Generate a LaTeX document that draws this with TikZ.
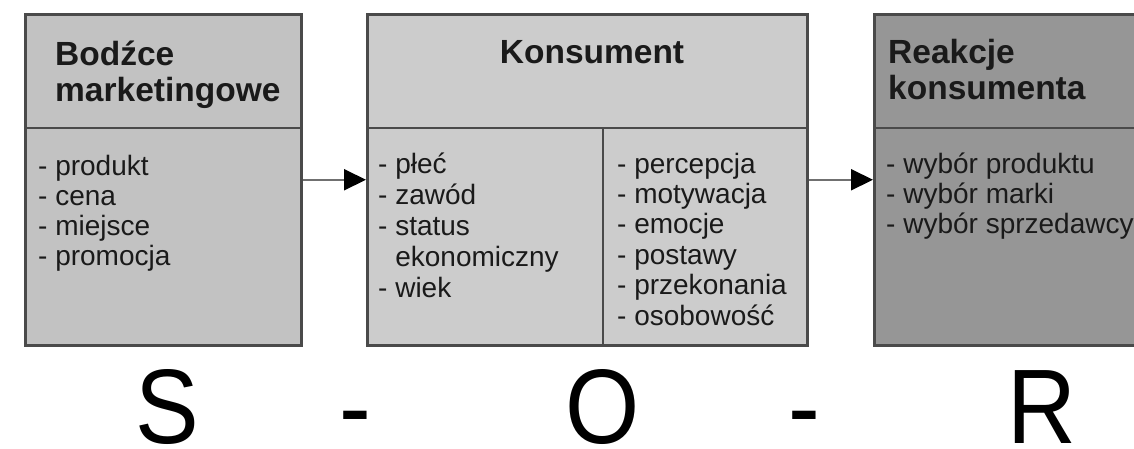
\documentclass[tikz,border=0pt]{standalone}
\usepackage{fontspec}
\setmainfont{Liberation Sans}
\newfontfamily\bigfont[FakeStretch=0.9]{Liberation Sans}
\usetikzlibrary{arrows.meta}
\definecolor{fillA}{HTML}{C2C2C2}
\definecolor{fillB}{HTML}{CCCCCC}
\definecolor{fillC}{HTML}{969696}
\definecolor{border}{HTML}{4A4A4A}
\definecolor{linegray}{HTML}{707070}
\definecolor{ink}{HTML}{1A1A1A}
\newcommand{\nodepth}[1]{\raisebox{0pt}[\height][0pt]{#1}}
\begin{document}
\begin{tikzpicture}[x=1pt,y=-1pt,
  box/.style={draw=border, line width=2.5pt, rectangle, inner sep=0pt, anchor=north west, minimum height=331pt},
  divider/.style={draw=border, line width=2.5pt},
  head/.style={font=\fontsize{33.5}{36}\selectfont\bfseries, text=ink, inner sep=0pt, anchor=base west},
  item/.style={font=\fontsize{28}{30}\selectfont, text=ink, inner sep=0pt, anchor=base west},
  big/.style={font=\bigfont\fontsize{106}{106}\selectfont, text=black, inner sep=0pt, anchor=base},
  conn/.style={draw=linegray, line width=2pt, -{Triangle[length=22pt,width=21pt,color=black]}}]
\clip (0,0) rectangle (1134,448);
\fill[white] (0,0) rectangle (1134,448);
% boxes
\node[box, fill=fillA, minimum width=276pt] (S) at (24,13) {};
\node[box, fill=fillB, minimum width=440pt] (O) at (366,13) {};
\node[box, fill=fillC, minimum width=300pt] (R) at (873,13) {};
% dividers
\draw[divider] (24,128) -- (300,128);
\draw[divider] (366,128) -- (806,128);
\draw[divider] (603,128) -- (603,344);
\draw[divider] (873,128) -- (1173,128);
% connectors
\draw[conn] (S.east) -- (O.west);
\draw[conn] (O.east) -- (R.west);
% headers
\node[head] (hS1) at (55,65) {Bodźce};
\node[head] (hS2) at (55,101) {marketingowe};
\node[head, anchor=base] (hO) at (592,63) {Konsument};
\node[head] (hR1) at (888,63) {Reakcje};
\node[head] (hR2) at (888,99) {konsumenta};
% items box S
\node[item] (s1) at (38,175) {- produkt};
\node[item] (s2) at (38,205) {- cena};
\node[item] (s3) at (38,235) {- miejsce};
\node[item] (s4) at (38,265) {- promocja};
% items box O left
\node[item] (o1) at (378,173) {- płeć};
\node[item] (o2) at (378,204) {- zawód};
\node[item] (o3) at (378,235) {- status};
\node[item] (o4) at (378,266) {\phantom{- }ekonomiczny};
\node[item] (o5) at (378,297) {- wiek};
% items box O right
\node[item] (p1) at (617,173) {- percepcja};
\node[item] (p2) at (617,203.4) {- motywacja};
\node[item] (p3) at (617,233.8) {- emocje};
\node[item] (p4) at (617,264.2) {- postawy};
\node[item] (p5) at (617,294.6) {- przekonania};
\node[item] (p6) at (617,325) {- osobowość};
% items box R
\node[item] (r1) at (886,173) {- wybór produktu};
\node[item] (r2) at (886,203) {- wybór marki};
\node[item] (r3) at (886,233) {- wybór sprzedawcy};
% S-O-R
\node[big] (L1) at (167,443) {\nodepth{S}};
\node[big] (L2) at (355,443) {\nodepth{-}};
\node[big] (L3) at (603,443) {\nodepth{O}};
\node[big] (L4) at (804,443) {\nodepth{-}};
\node[big] (L5) at (1042,443) {\nodepth{R}};
\end{tikzpicture}
\end{document}
